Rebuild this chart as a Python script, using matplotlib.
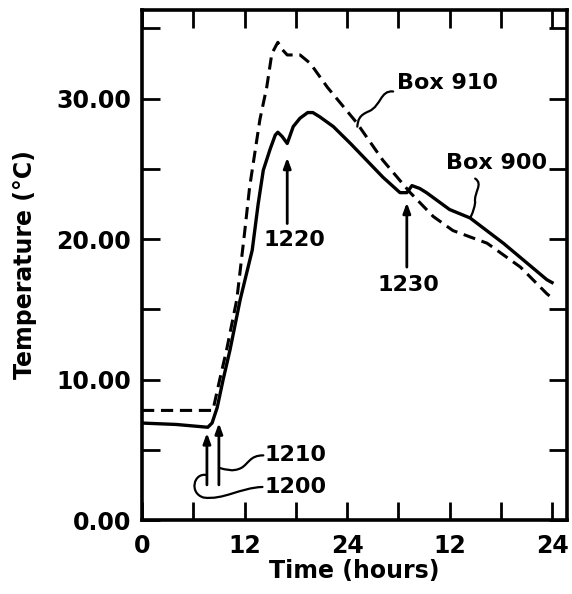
"""
Box 900 / Box 910 temperature traces over two days, with event arrows.
"""
import matplotlib
matplotlib.use("Agg")
import matplotlib.pyplot as plt
from matplotlib.path import Path
from matplotlib.patches import PathPatch

# ==================== DATA ====================
box910_t = [0, 4, 8.3, 9.1, 9.9, 11.1, 12.0, 12.6, 13.2, 13.8, 14.6, 15.2,
            15.9, 16.4, 17.0, 18.5, 19.7, 21.7, 25.1, 28.2, 31.4, 34.1, 36.4,
            40.4, 44.3, 47.4, 48.0]
box910_T = [7.8, 7.8, 7.8, 10.0, 12.1, 15.7, 20.4, 23.7, 26.1, 28.5, 30.8, 33.2,
            34.0, 33.5, 33.1, 33.1, 32.5, 30.8, 28.3, 25.6, 23.3, 21.6, 20.6,
            19.7, 18.0, 16.1, 15.8]

box900_t = [0, 4, 7.7, 8.2, 8.8, 9.5, 10.3, 11.5, 12.9, 13.6, 14.2, 15.0,
            15.6, 15.9, 16.4, 17.0, 17.7, 18.5, 19.4, 20.0, 20.8, 22.4, 24.4,
            28.2, 30.2, 31.0, 31.6, 32.5, 33.3, 36.0, 38.4, 42.3, 47.4, 48.0]
box900_T = [6.9, 6.8, 6.6, 6.9, 8.0, 10.0, 12.1, 15.7, 19.2, 22.5, 24.9, 26.4,
            27.4, 27.6, 27.3, 26.8, 28.0, 28.6, 29.0, 29.0, 28.7, 28.0, 26.8,
            24.4, 23.3, 23.3, 23.8, 23.6, 23.3, 22.1, 21.5, 19.7, 17.1, 16.9]

# event arrows: label, time, head, tail
event_names = ["1200", "1210", "1220", "1230"]
event_t = [7.6, 9.0, 17.0, 31.0]
event_head = [6.2, 6.9, 25.8, 22.6]
event_tail = [2.5, 2.5, 21.1, 18.0]

x_ticks = [0, 6, 12, 18, 24, 30, 36, 42, 48]
x_tick_labels = ["0", "", "12", "", "24", "", "12", "", "24"]
y_ticks = [0, 10, 20, 30]
y_minor = [5, 15, 25, 35]
y_tick_labels = ["0.00", "10.00", "20.00", "30.00"]

FONT = "DejaVu Sans"
FS = 17      # tick labels and axis titles
FS_NOTE = 16  # in-plot labels

fig = plt.figure(figsize=(5.72, 5.94), dpi=100)
ax = fig.add_axes([142 / 572, 1 - 520 / 594, 425 / 572, 510 / 594])

ax.plot(box900_t, box900_T, color="black", lw=2.4, solid_joinstyle="round")
ax.plot(box910_t, box910_T, color="black", lw=2.2, dashes=(4, 2.2))

for name, t, h, tl in zip(event_names, event_t, event_head, event_tail):
    ax.annotate("", xy=(t, h), xytext=(t, tl),
                arrowprops=dict(arrowstyle="-|>,head_length=0.6,head_width=0.22",
                                lw=2, color="black", shrinkA=0, shrinkB=0))

txt = dict(fontsize=FS_NOTE, family=FONT, fontweight="bold", color="black")
ax.text(17.8, 19.9, "1220", ha="center", va="center", **txt)
ax.text(31.2, 16.7, "1230", ha="center", va="center", **txt)
ax.text(14.3, 4.6, "1210", ha="left", va="center", **txt)
ax.text(14.3, 2.35, "1200", ha="left", va="center", **txt)
ax.text(29.9, 31.1, "Box 910", ha="left", va="center", **txt)
ax.text(35.6, 25.4, "Box 900", ha="left", va="center", **txt)


def leader(points):
    codes = [Path.MOVETO] + [Path.CURVE4] * (len(points) - 1)
    ax.add_patch(PathPatch(Path(points, codes), fill=False, lw=1.6,
                           edgecolor="black", capstyle="round"))


leader([(29.4, 30.5), (27.9, 30.6), (28.0, 29.5), (26.6, 29.1),
        (25.4, 28.8), (25.3, 28.5), (25.2, 28.0)])
leader([(39.0, 24.3), (40.0, 23.9), (38.8, 23.3), (39.0, 22.6),
        (38.9, 22.2), (38.7, 21.8), (38.4, 21.5)])
leader([(14.2, 4.6), (12.6, 4.6), (12.5, 4.0), (11.6, 3.7),
        (10.6, 3.4), (9.8, 3.6), (9.1, 3.7)])
leader([(14.1, 2.35), (11.5, 2.3), (9.5, 1.4), (7.2, 1.6),
        (5.5, 1.9), (6.0, 3.4), (7.6, 3.2)])

ax.set_xlim(0, 49.75)
ax.set_ylim(0, 36.3)
ax.set_xticks(x_ticks)
ax.set_xticklabels(x_tick_labels)
ax.set_yticks(y_ticks)
ax.set_yticks(y_minor, minor=True)
ax.set_yticklabels(y_tick_labels)
for lab in ax.get_xticklabels() + ax.get_yticklabels():
    lab.set_fontsize(FS)
    lab.set_family(FONT)
    lab.set_fontweight("bold")

ax.tick_params(which="both", direction="in", length=13, width=2,
               top=True, right=True, pad=8)
ax.tick_params(axis="x", pad=10)
for s in ax.spines.values():
    s.set_linewidth(2.6)

ax.set_xlabel("Time (hours)", fontsize=FS, family=FONT, fontweight="bold", labelpad=1)
ax.set_ylabel("Temperature (°C)", fontsize=FS, family=FONT, fontweight="bold", labelpad=14)

plt.savefig("out.png", dpi=100)
